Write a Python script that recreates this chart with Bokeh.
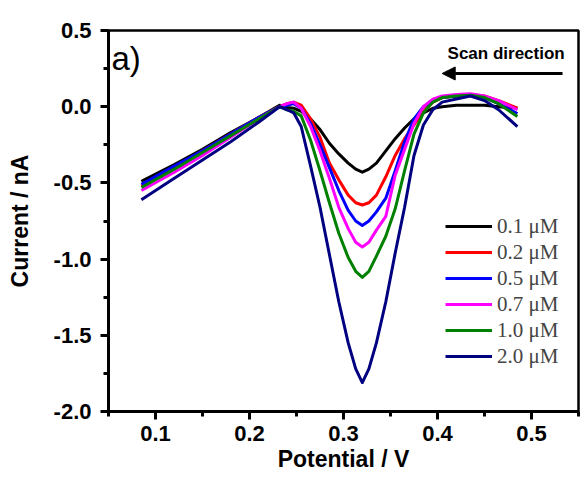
from bokeh.plotting import figure
from bokeh.models import (Range1d, SingleIntervalTicker, PrintfTickFormatter, Legend,
                          LegendItem, Label, Arrow, NormalHead)
from bokeh.embed import file_html
from bokeh.resources import INLINE

# ---------------- data ----------------
potential = [0.085, 0.12, 0.15, 0.18, 0.21, 0.232, 0.240, 0.247, 0.255, 0.265,
             0.275, 0.285, 0.295, 0.305, 0.313, 0.320, 0.327, 0.335, 0.345, 0.355,
             0.365, 0.375, 0.385, 0.395, 0.405, 0.42, 0.435, 0.45, 0.465, 0.485]

i_01 = [-0.49, -0.38, -0.28, -0.17, -0.07, 0.01, -0.005, -0.01, -0.03, -0.08,
        -0.15, -0.24, -0.31, -0.37, -0.41, -0.43, -0.41, -0.37, -0.29, -0.21,
        -0.14, -0.08, -0.04, -0.01, 0.0, 0.01, 0.01, 0.01, 0.0, -0.01]
i_02 = [-0.52, -0.40, -0.29, -0.18, -0.07, 0.0, 0.02, 0.03, 0.01, -0.08,
        -0.20, -0.37, -0.48, -0.58, -0.63, -0.645, -0.63, -0.58, -0.46, -0.32,
        -0.21, -0.12, -0.03, 0.03, 0.06, 0.07, 0.08, 0.07, 0.04, -0.01]
i_05 = [-0.51, -0.39, -0.29, -0.18, -0.07, 0.0, 0.01, 0.02, -0.01, -0.11,
        -0.25, -0.40, -0.55, -0.68, -0.75, -0.78, -0.75, -0.69, -0.60, -0.42,
        -0.23, -0.08, 0.0, 0.04, 0.06, 0.07, 0.08, 0.06, 0.02, -0.045]
i_07 = [-0.55, -0.43, -0.32, -0.20, -0.08, 0.0, 0.02, 0.03, -0.01, -0.13,
        -0.29, -0.47, -0.66, -0.80, -0.89, -0.92, -0.89, -0.81, -0.72, -0.45,
        -0.28, -0.11, 0.0, 0.05, 0.07, 0.08, 0.085, 0.07, 0.04, -0.02]
i_10 = [-0.53, -0.41, -0.30, -0.19, -0.08, 0.0, -0.02, -0.03, -0.06, -0.22,
        -0.42, -0.63, -0.83, -0.99, -1.08, -1.12, -1.08, -0.98, -0.85, -0.67,
        -0.42, -0.18, -0.04, 0.03, 0.06, 0.07, 0.075, 0.06, 0.02, -0.065]
i_20 = [-0.61, -0.47, -0.35, -0.23, -0.10, 0.0, -0.02, -0.04, -0.13, -0.39,
        -0.66, -0.97, -1.28, -1.55, -1.72, -1.81, -1.72, -1.55, -1.28, -0.96,
        -0.66, -0.32, -0.12, -0.02, 0.03, 0.05, 0.07, 0.04, -0.02, -0.13]

labels = ["0.1 \u03bcM", "0.2 \u03bcM", "0.5 \u03bcM", "0.7 \u03bcM", "1.0 \u03bcM", "2.0 \u03bcM"]
colors = ["#000000", "#ff0000", "#0000ff", "#ff00ff", "#008000", "#000080"]
series = [i_01, i_02, i_05, i_07, i_10, i_20]

# ---------------- figure ----------------
p = figure(width=580, height=478, output_backend="svg", toolbar_location=None,
           x_range=Range1d(0.05, 0.55), y_range=Range1d(-2.0, 0.5),
           min_border_left=108, min_border_right=2, min_border_top=30, min_border_bottom=67)
p.grid.visible = False
p.background_fill_color = "white"
p.border_fill_color = "white"
p.outline_line_color = "black"
p.outline_line_width = 2.5

renderers = []
for ys, c in zip(series, colors):
    r = p.line(potential, ys, line_color=c, line_width=3, line_join="round")
    renderers.append(r)

tick_font = "Liberation Sans"
p.xaxis.ticker = SingleIntervalTicker(interval=0.1, num_minor_ticks=2)
p.yaxis.ticker = SingleIntervalTicker(interval=0.5, num_minor_ticks=2)
p.xaxis.formatter = PrintfTickFormatter(format="%.1f")
p.yaxis.formatter = PrintfTickFormatter(format="%.1f")
for ax in (p.xaxis, p.yaxis):
    ax.axis_line_width = 3
    ax.axis_line_color = "black"
    ax.major_tick_line_width = 3
    ax.minor_tick_line_width = 3
    ax.major_tick_out = 8
    ax.major_tick_in = 0
    ax.minor_tick_out = 5
    ax.minor_tick_in = 0
    ax.major_label_text_font = tick_font
    ax.major_label_text_font_style = "bold"
    ax.major_label_text_font_size = "22px"
    ax.major_label_text_color = "black"
    ax.axis_label_text_font = tick_font
    ax.axis_label_text_font_style = "bold"
    ax.axis_label_text_font_size = "23px"
    ax.axis_label_text_color = "black"
p.xaxis.axis_label = "Potential / V"
p.yaxis.axis_label = "Current / nA"
p.xaxis.major_label_standoff = 6
p.yaxis.major_label_standoff = 9
p.xaxis.axis_label_standoff = 2
p.yaxis.axis_label_standoff = 18

legend = Legend(items=[LegendItem(label=l, renderers=[r]) for l, r in zip(labels, renderers)],
                location=(337, 42), padding=0, margin=0, spacing=0,
                glyph_width=47, glyph_height=26, label_height=26, label_standoff=5,
                label_text_font="Liberation Serif", label_text_font_size="21px",
                border_line_color=None, background_fill_alpha=0)
p.add_layout(legend, "center")

p.add_layout(Label(x=0.473, y=0.346, text="Scan direction", text_align="center",
                   text_baseline="middle", text_font=tick_font, text_font_style="bold",
                   text_font_size="17px", text_color="black"))
p.add_layout(Arrow(x_start=0.533, y_start=0.218, x_end=0.405, y_end=0.218,
                   line_width=3, line_color="black",
                   end=NormalHead(size=13, fill_color="black", line_color="black", line_width=1)))
p.add_layout(Label(x=0.0532, y=0.44, text="a)", text_align="left", text_baseline="top",
                   text_font=tick_font, text_font_size="33px", text_color="black"))

open("out.html", "w").write(file_html(p, INLINE))
